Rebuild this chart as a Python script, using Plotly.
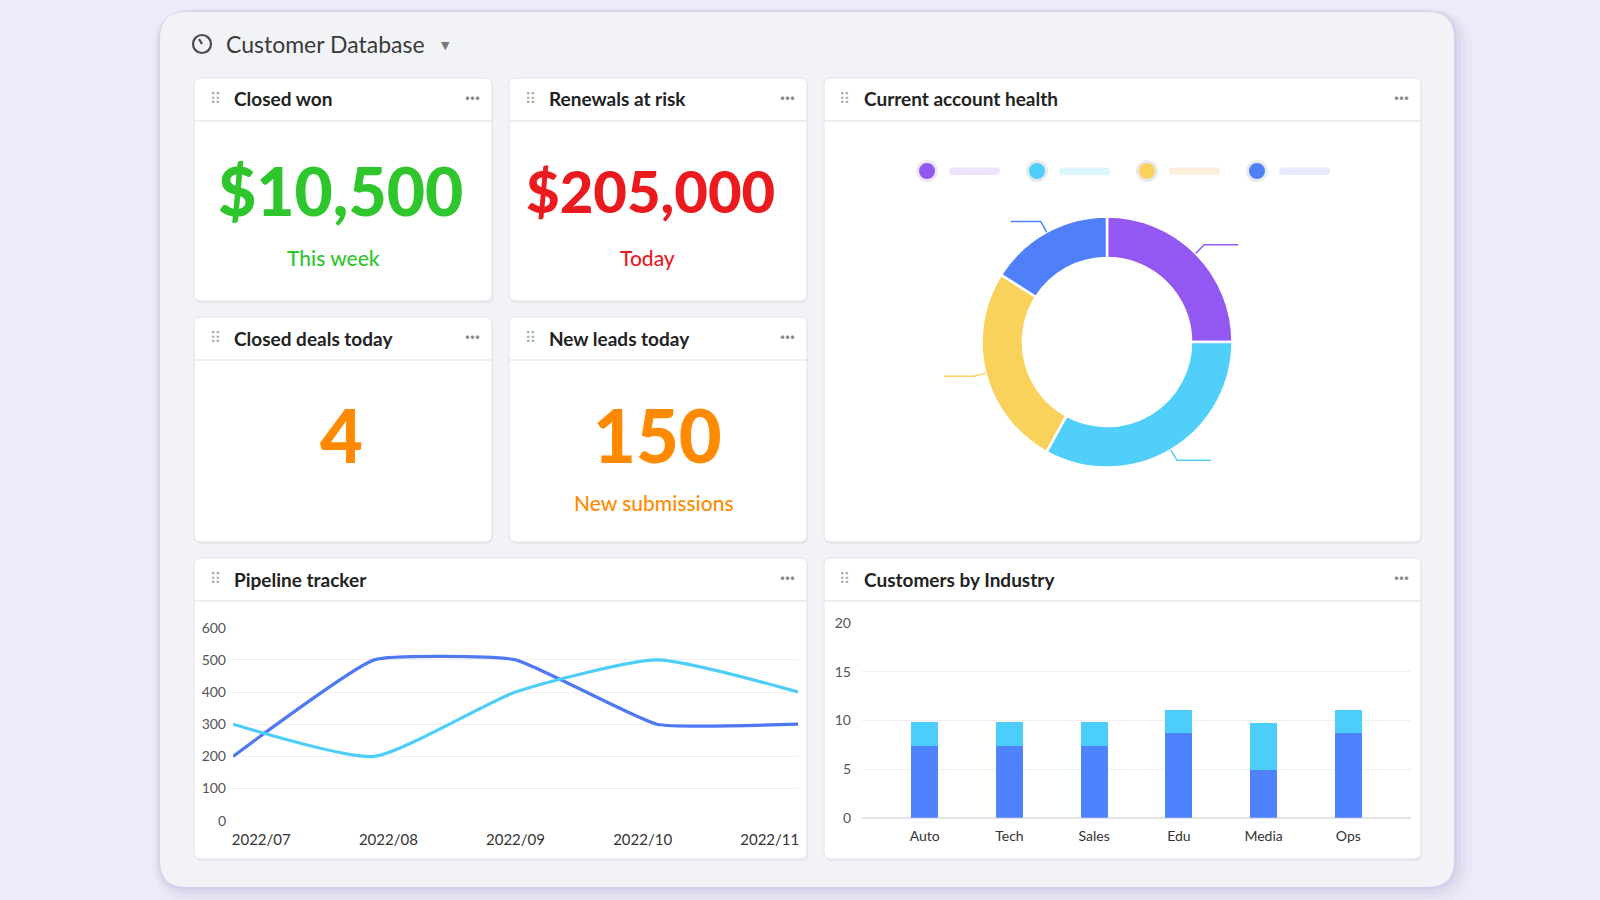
import math
import plotly.graph_objects as go

# ---------------- data ----------------
dashboard_title = "Customer Database"

kpi_titles = ["Closed won", "Renewals at risk", "Closed deals today", "New leads today"]
kpi_values = ["$10,500", "$205,000", "4", "150"]
kpi_subtitles = ["This week", "Today", "", "New submissions"]
kpi_colors = ["#2FC52C", "#EA1A1F", "#FF8A00", "#FF8A00"]

health_title = "Current account health"
health_labels = ["Segment A", "Segment B", "Segment C", "Segment D"]
health_values = [25, 33, 26, 16]
health_colors = ["#9358F2", "#4FCFFA", "#F9D25B", "#4F80F9"]
health_light = ["#EEE3FC", "#DDF5FD", "#FDEDDB", "#E5EAFC"]

pipeline_title = "Pipeline tracker"
months = ["2022/07", "2022/08", "2022/09", "2022/10", "2022/11"]
pipeline_a = [200, 500, 500, 300, 300]
pipeline_b = [300, 200, 400, 500, 400]
pipeline_ticks = [0, 100, 200, 300, 400, 500, 600]

industry_title = "Customers by Industry"
industries = ["Auto", "Tech", "Sales", "Edu", "Media", "Ops"]
industry_a = [7.4, 7.4, 7.4, 8.7, 4.9, 8.7]
industry_b = [2.4, 2.4, 2.4, 2.4, 4.8, 2.4]
industry_ticks = [0, 5, 10, 15, 20]

# ---------------- helpers ----------------
W, H = 1600, 900
FONT = "Lato"


def px(x):
    return x / W


def py(y):
    return 1 - y / H


def rrect(x0, y0, x1, y1, r):
    pts = [
        ("M", [(x0 + r, y0)]), ("L", [(x1 - r, y0)]), ("Q", [(x1, y0), (x1, y0 + r)]),
        ("L", [(x1, y1 - r)]), ("Q", [(x1, y1), (x1 - r, y1)]), ("L", [(x0 + r, y1)]),
        ("Q", [(x0, y1), (x0, y1 - r)]), ("L", [(x0, y0 + r)]), ("Q", [(x0, y0), (x0 + r, y0)]),
    ]
    s = ""
    for cmd, ps in pts:
        s += cmd + " " + " ".join(f"{px(a):.5f},{py(b):.5f}" for a, b in ps) + " "
    return s + "Z"


shapes = []
annotations = []


def add_rrect(x0, y0, x1, y1, r, fill, line=None, lw=0):
    shapes.append(dict(type="path", path=rrect(x0, y0, x1, y1, r), xref="paper", yref="paper",
                       fillcolor=fill, line=dict(color=line or fill, width=lw), layer="below"))


def add_text(x, y, text, size, color, weight="normal", xanchor="left", family=FONT):
    annotations.append(dict(x=px(x), y=py(y), xref="paper", yref="paper", text=text,
                            showarrow=False, xanchor=xanchor, yanchor="middle",
                            font=dict(family=family, size=size, color=color, weight=weight)))


# ---------------- background panel ----------------
for grow, alpha in [(18, 0.05), (12, 0.07), (7, 0.09), (3, 0.12)]:
    add_rrect(160 - grow * 0.4, 12 - grow * 0.2, 1454 + grow, 887 + grow, 26 + grow,
              f"rgba(150,150,200,{alpha})")
add_rrect(160, 12, 1454, 887, 26, "#F2F3F6")

# header
shapes.append(dict(type="circle", xref="paper", yref="paper",
                   x0=px(193), x1=px(211), y0=py(35), y1=py(53),
                   line=dict(color="#4A4A4A", width=2.2), layer="above"))
shapes.append(dict(type="line", xref="paper", yref="paper",
                   x0=px(202), y0=py(44), x1=px(199), y1=py(39),
                   line=dict(color="#4A4A4A", width=2.2), layer="above"))
add_text(224, 44, dashboard_title, 23, "#3A3A3A")
add_text(445, 45, "▼", 11, "#777", xanchor="center", family="DejaVu Sans")

# ---------------- cards ----------------
cards = [
    (kpi_titles[0], 194, 78, 492, 301),
    (kpi_titles[1], 509, 78, 807, 301),
    (kpi_titles[2], 194, 317, 492, 542),
    (kpi_titles[3], 509, 317, 807, 542),
    (health_title, 824, 78, 1421, 542),
    (pipeline_title, 194, 558, 807, 859),
    (industry_title, 824, 558, 1421, 859),
]
for title, x0, y0, x1, y1 in cards:
    add_rrect(x0 + 1, y0 + 2, x1 + 1, y1 + 2, 7, "rgba(180,180,200,0.18)")
    add_rrect(x0, y0, x1, y1, 7, "#FFFFFF", "#E3E4E9", 1)
    shapes.append(dict(type="line", xref="paper", yref="paper", x0=px(x0), x1=px(x1),
                       y0=py(y0 + 43), y1=py(y0 + 43), line=dict(color="#E6E7EB", width=1.5),
                       layer="below"))
    add_text(x0 + 21, y0 + 21, "⠿", 15, "#A8A8AE", xanchor="center", family="DejaVu Sans")
    add_text(x0 + 38, y0 + 21, title, 19, "#222222", weight="bold")
    add_text(x1 - 20, y0 + 19, "···", 18, "#8A8A8A", weight="bold", xanchor="center")

# KPI values
value_dx = [-3, -8, -2, -1]
value_size = [66, 58, 74, 74]
sub_dx = [-10, -11, 0, -4]
for i in range(4):
    _, x0, y0, x1, y1 = cards[i]
    cx = (x0 + x1) / 2
    vy = y0 + 113 if i < 2 else y0 + 117
    add_text(cx + value_dx[i], vy, kpi_values[i], value_size[i], kpi_colors[i], weight=900,
             xanchor="center")
    if kpi_subtitles[i]:
        sy = y0 + 179 if i < 2 else y0 + 185
        add_text(cx + sub_dx[i], sy, kpi_subtitles[i], 21, kpi_colors[i], weight=500,
                 xanchor="center")

# ---------------- donut legend ----------------
for i, (c, lc) in enumerate(zip(health_colors, health_light)):
    lx = 927 + i * 110
    shapes.append(dict(type="circle", xref="paper", yref="paper",
                       x0=px(lx - 9.5), x1=px(lx + 9.5), y0=py(161.5), y1=py(180.5),
                       fillcolor=c, line=dict(color="#E9E9EE", width=3), layer="above"))
    add_rrect(lx + 22, 167.5, lx + 73, 175, 3.7, lc)

# ---------------- donut ----------------
cxp, cyp, R = 1107, 342, 125.5
fig = go.Figure()
fig.add_trace(go.Pie(
    labels=health_labels, values=health_values, hole=0.67, sort=False, direction="clockwise",
    rotation=0, marker=dict(colors=health_colors, line=dict(color="#FFFFFF", width=2.5)),
    textinfo="none", hoverinfo="label+value", showlegend=False, automargin=False,
    domain=dict(x=[px(cxp - R), px(cxp + R)], y=[py(cyp + R), py(cyp - R)]),
))
total = sum(health_values)
cum = 0
for v, c in zip(health_values, health_colors):
    th = 2 * math.pi * (cum + v / 2) / total
    cum += v
    sx, sy = math.sin(th), -math.cos(th)
    p0 = (cxp + R * sx, cyp + R * sy)
    p1 = (cxp + (R + 12) * sx, cyp + (R + 12) * sy)
    p2 = (p1[0] + (34 if sx > 0 else -30), p1[1])
    path = "M {} L {} L {}".format(*[f"{px(a):.5f},{py(b):.5f}" for a, b in (p0, p1, p2)])
    shapes.append(dict(type="path", path=path, xref="paper", yref="paper",
                       line=dict(color=c, width=1.5), layer="above"))

# ---------------- pipeline line chart ----------------
n = len(months)
xs = list(range(n))
fig.add_trace(go.Scatter(x=xs, y=pipeline_a, mode="lines", line=dict(color="#4F78F3", width=3.2,
                         shape="spline", smoothing=0.38), xaxis="x", yaxis="y", showlegend=False,
                         name="Pipeline A"))
fig.add_trace(go.Scatter(x=xs, y=pipeline_b, mode="lines", line=dict(color="#4DCEF9", width=3.2,
                         shape="spline", smoothing=0.55), xaxis="x", yaxis="y", showlegend=False,
                         name="Pipeline B"))
label_pos = [0.2 + i * 0.9 for i in range(n)]

# ---------------- industry bar chart ----------------
fig.add_trace(go.Bar(x=industries, y=industry_a, marker=dict(color="#4F82FD", line=dict(width=0)),
                     width=0.32, xaxis="x2", yaxis="y2", showlegend=False, name="Group A"))
fig.add_trace(go.Bar(x=industries, y=industry_b, marker=dict(color="#4DCDF9", line=dict(width=0)),
                     width=0.32, xaxis="x2", yaxis="y2", showlegend=False, name="Group B"))

tickfont = dict(family=FONT, size=14, color="#555555")
fig.update_layout(
    width=W, height=H, margin=dict(l=0, r=0, t=0, b=0, pad=0, autoexpand=False),
    paper_bgcolor="#ECEBF9", plot_bgcolor="rgba(0,0,0,0)", showlegend=False,
    barmode="stack", shapes=shapes, annotations=annotations,
    xaxis=dict(domain=[px(233), px(798)], range=[0, n - 1], anchor="y", showgrid=False,
               zeroline=False, showline=False, tickmode="array", tickvals=label_pos,
               ticktext=months, ticks="", tickfont=dict(family=FONT, size=15, color="#333"),
               ticklabelstandoff=8, fixedrange=True, automargin=False),
    yaxis=dict(domain=[py(820.7), py(627.7)], range=[0, 600], anchor="x", tickvals=pipeline_ticks,
               showgrid=True, gridcolor="#F0F0F3", gridwidth=1, zeroline=False, showline=False,
               tickfont=tickfont, ticklabelstandoff=6, fixedrange=True, automargin=False),
    xaxis2=dict(domain=[px(862), px(1411)], range=[-0.74, 5.74], anchor="y2", type="category",
                showgrid=False, zeroline=False, showline=False, ticks="",
                tickfont=dict(family=FONT, size=14, color="#333"), ticklabelstandoff=8,
                fixedrange=True, automargin=False),
    yaxis2=dict(domain=[py(817.7), py(623)], range=[0, 20], anchor="x2", tickvals=industry_ticks,
                showgrid=True, gridcolor="#F0F0F3", gridwidth=1, zeroline=True,
                zerolinecolor="#E4E4E8", zerolinewidth=1.5, showline=False,
                tickfont=tickfont, ticklabelstandoff=10, fixedrange=True, automargin=False),
)

fig.write_html("out.html", config={"displayModeBar": False},
               post_script="document.body.style.margin='0';document.body.style.overflow='hidden';")
